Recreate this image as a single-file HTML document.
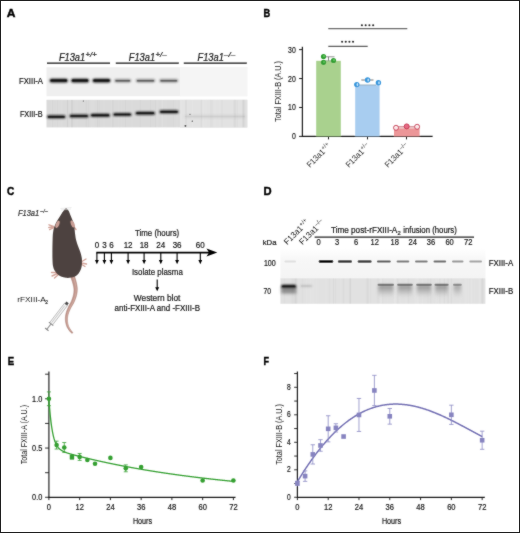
<!DOCTYPE html>
<html><head><meta charset="utf-8"><style>
html,body{margin:0;padding:0;background:#fff;}
svg{display:block;will-change:transform;font-family:"Liberation Sans", sans-serif;}

</style></head><body>
<svg width="520" height="533" viewBox="0 0 520 533">
<defs>
<filter id="soft" filterUnits="userSpaceOnUse" x="0" y="0" width="520" height="533"><feConvolveMatrix order="3" kernelMatrix="1 2 1 2 24 2 1 2 1" divisor="36" edgeMode="duplicate"/></filter>
<filter id="bl" x="-20%" y="-150%" width="140%" height="400%"><feGaussianBlur stdDeviation="0.8"/></filter>
<filter id="bl3" x="-20%" y="-50%" width="140%" height="200%"><feGaussianBlur stdDeviation="1"/></filter>
<filter id="bl2" x="-20%" y="-50%" width="140%" height="200%"><feGaussianBlur stdDeviation="1.5"/></filter>
</defs>
<rect x="0.5" y="0.5" width="519" height="532" fill="#fff" stroke="#1e1e1e" stroke-width="1"/>
<g filter="url(#soft)">
<text x="6.8" y="16.6" font-size="11.8" text-anchor="start" fill="#000" font-weight="bold" font-style="normal" textLength="8.7" lengthAdjust="spacingAndGlyphs" stroke="#000" stroke-width="0.45" >A</text>
<text x="263.5" y="16.5" font-size="11.8" text-anchor="start" fill="#000" font-weight="bold" font-style="normal" textLength="6.7" lengthAdjust="spacingAndGlyphs" stroke="#000" stroke-width="0.45" >B</text>
<text x="7.1" y="195.3" font-size="11.8" text-anchor="start" fill="#000" font-weight="bold" font-style="normal" textLength="7.3" lengthAdjust="spacingAndGlyphs" stroke="#000" stroke-width="0.45" >C</text>
<text x="263.6" y="194.7" font-size="11.8" text-anchor="start" fill="#000" font-weight="bold" font-style="normal" textLength="8.1" lengthAdjust="spacingAndGlyphs" stroke="#000" stroke-width="0.45" >D</text>
<text x="7.7" y="365.4" font-size="11.8" text-anchor="start" fill="#000" font-weight="bold" font-style="normal" textLength="6.4" lengthAdjust="spacingAndGlyphs" stroke="#000" stroke-width="0.45" >E</text>
<text x="263.6" y="365.3" font-size="11.8" text-anchor="start" fill="#000" font-weight="bold" font-style="normal" textLength="5.5" lengthAdjust="spacingAndGlyphs" stroke="#000" stroke-width="0.45" >F</text>
<line x1="47" y1="63.1" x2="110" y2="63.1" stroke="#111" stroke-width="1.3"/>
<text x="58.9" y="60.6" font-size="10.2" text-anchor="start" fill="#222" font-weight="normal" font-style="italic" textLength="26.3" lengthAdjust="spacingAndGlyphs" stroke="#222" stroke-width="0.22" >F13a1</text>
<text x="85.5" y="57.4" font-size="7" text-anchor="start" fill="#222" font-weight="normal" font-style="italic" textLength="11.2" lengthAdjust="spacingAndGlyphs" stroke="#222" stroke-width="0.22" >+/+</text>
<line x1="115.8" y1="63.1" x2="178.8" y2="63.1" stroke="#111" stroke-width="1.3"/>
<text x="128.8" y="60.6" font-size="10.2" text-anchor="start" fill="#222" font-weight="normal" font-style="italic" textLength="26.3" lengthAdjust="spacingAndGlyphs" stroke="#222" stroke-width="0.22" >F13a1</text>
<text x="155.4" y="57.4" font-size="7" text-anchor="start" fill="#222" font-weight="normal" font-style="italic" textLength="11.2" lengthAdjust="spacingAndGlyphs" stroke="#222" stroke-width="0.22" >+/–</text>
<line x1="183.8" y1="63.1" x2="246.8" y2="63.1" stroke="#111" stroke-width="1.3"/>
<text x="197.5" y="60.6" font-size="10.2" text-anchor="start" fill="#222" font-weight="normal" font-style="italic" textLength="26.3" lengthAdjust="spacingAndGlyphs" stroke="#222" stroke-width="0.22" >F13a1</text>
<text x="224.1" y="57.4" font-size="7" text-anchor="start" fill="#222" font-weight="normal" font-style="italic" textLength="11.2" lengthAdjust="spacingAndGlyphs" stroke="#222" stroke-width="0.22" >–/–</text>
<rect x="46.5" y="67.2" width="200.8" height="29" fill="#efefef"/>
<rect x="180" y="67.2" width="67.3" height="29" fill="#f5f5f5"/>
<rect x="46.5" y="99.8" width="200.8" height="27.6" fill="#dadada"/>
<rect x="180" y="99.8" width="67.3" height="27.6" fill="#e2e2e2"/>
<rect x="111.2" y="99.8" width="0.8" height="27.60000000000001" fill="#fff" opacity="0.076"/>
<rect x="61.0" y="99.8" width="1.5" height="27.60000000000001" fill="#fff" opacity="0.056"/>
<rect x="58.1" y="99.8" width="1.4" height="27.60000000000001" fill="#fff" opacity="0.033"/>
<rect x="133.1" y="99.8" width="0.7" height="27.60000000000001" fill="#fff" opacity="0.036"/>
<rect x="131.3" y="99.8" width="1.9" height="27.60000000000001" fill="#fff" opacity="0.039"/>
<rect x="91.1" y="99.8" width="1.6" height="27.60000000000001" fill="#fff" opacity="0.096"/>
<rect x="161.8" y="99.8" width="1.2" height="27.60000000000001" fill="#fff" opacity="0.098"/>
<rect x="55.8" y="99.8" width="2.0" height="27.60000000000001" fill="#fff" opacity="0.050"/>
<rect x="75.3" y="99.8" width="0.8" height="27.60000000000001" fill="#fff" opacity="0.052"/>
<rect x="209.6" y="99.8" width="0.9" height="27.60000000000001" fill="#fff" opacity="0.071"/>
<rect x="174.2" y="99.8" width="1.2" height="27.60000000000001" fill="#fff" opacity="0.068"/>
<rect x="59.0" y="99.8" width="0.7" height="27.60000000000001" fill="#fff" opacity="0.044"/>
<rect x="182.4" y="99.8" width="1.3" height="27.60000000000001" fill="#fff" opacity="0.052"/>
<rect x="163.5" y="99.8" width="1.3" height="27.60000000000001" fill="#fff" opacity="0.051"/>
<rect x="205.2" y="99.8" width="1.7" height="27.60000000000001" fill="#fff" opacity="0.047"/>
<rect x="161.3" y="99.8" width="1.4" height="27.60000000000001" fill="#fff" opacity="0.091"/>
<rect x="192.2" y="99.8" width="1.1" height="27.60000000000001" fill="#fff" opacity="0.099"/>
<rect x="70.1" y="99.8" width="1.3" height="27.60000000000001" fill="#fff" opacity="0.083"/>
<rect x="76.9" y="99.8" width="1.4" height="27.60000000000001" fill="#fff" opacity="0.033"/>
<rect x="180.0" y="99.8" width="1.8" height="27.60000000000001" fill="#fff" opacity="0.070"/>
<rect x="221.4" y="99.8" width="1.1" height="27.60000000000001" fill="#fff" opacity="0.079"/>
<rect x="165.3" y="99.8" width="1.5" height="27.60000000000001" fill="#fff" opacity="0.062"/>
<rect x="214.3" y="99.8" width="2.1" height="27.60000000000001" fill="#fff" opacity="0.063"/>
<rect x="179.2" y="99.8" width="0.7" height="27.60000000000001" fill="#fff" opacity="0.079"/>
<rect x="175.8" y="99.8" width="2.2" height="27.60000000000001" fill="#fff" opacity="0.088"/>
<rect x="103.4" y="99.8" width="1.2" height="27.60000000000001" fill="#fff" opacity="0.077"/>
<rect x="51.0" y="99.8" width="1.3" height="27.60000000000001" fill="#fff" opacity="0.042"/>
<rect x="69.9" y="99.8" width="0.7" height="27.60000000000001" fill="#fff" opacity="0.084"/>
<rect x="72.3" y="99.8" width="1.0" height="27.60000000000001" fill="#fff" opacity="0.057"/>
<rect x="220.6" y="99.8" width="0.7" height="27.60000000000001" fill="#fff" opacity="0.061"/>
<rect x="156.3" y="99.8" width="2.0" height="27.60000000000001" fill="#fff" opacity="0.087"/>
<rect x="219.1" y="99.8" width="1.0" height="27.60000000000001" fill="#fff" opacity="0.059"/>
<rect x="118.2" y="99.8" width="2.0" height="27.60000000000001" fill="#fff" opacity="0.097"/>
<rect x="76.7" y="99.8" width="0.9" height="27.60000000000001" fill="#fff" opacity="0.046"/>
<rect x="93.1" y="99.8" width="1.4" height="27.60000000000001" fill="#fff" opacity="0.071"/>
<rect x="99.0" y="99.8" width="0.6" height="27.60000000000001" fill="#fff" opacity="0.059"/>
<rect x="120.3" y="99.8" width="1.5" height="27.60000000000001" fill="#fff" opacity="0.097"/>
<rect x="184.5" y="99.8" width="1.4" height="27.60000000000001" fill="#fff" opacity="0.073"/>
<rect x="181.6" y="99.8" width="0.7" height="27.60000000000001" fill="#fff" opacity="0.093"/>
<rect x="202.3" y="99.8" width="2.0" height="27.60000000000001" fill="#fff" opacity="0.086"/>
<rect x="124.9" y="99.8" width="1.2" height="27.60000000000001" fill="#000" opacity="0.018"/>
<rect x="173.2" y="99.8" width="0.7" height="27.60000000000001" fill="#000" opacity="0.017"/>
<rect x="88.2" y="99.8" width="0.9" height="27.60000000000001" fill="#000" opacity="0.024"/>
<rect x="57.0" y="99.8" width="0.6" height="27.60000000000001" fill="#000" opacity="0.019"/>
<rect x="66.8" y="99.8" width="1.2" height="27.60000000000001" fill="#000" opacity="0.016"/>
<rect x="221.2" y="99.8" width="1.6" height="27.60000000000001" fill="#000" opacity="0.019"/>
<rect x="96.9" y="99.8" width="1.2" height="27.60000000000001" fill="#000" opacity="0.024"/>
<rect x="71.0" y="99.8" width="2.0" height="27.60000000000001" fill="#000" opacity="0.040"/>
<rect x="139.6" y="99.8" width="1.4" height="27.60000000000001" fill="#000" opacity="0.017"/>
<rect x="66.9" y="99.8" width="1.1" height="27.60000000000001" fill="#000" opacity="0.022"/>
<rect x="212.1" y="99.8" width="0.9" height="27.60000000000001" fill="#000" opacity="0.016"/>
<rect x="236.5" y="99.8" width="1.4" height="27.60000000000001" fill="#000" opacity="0.019"/>
<rect x="155.0" y="99.8" width="0.6" height="27.60000000000001" fill="#000" opacity="0.028"/>
<rect x="242.0" y="99.8" width="2.0" height="27.60000000000001" fill="#000" opacity="0.032"/>
<rect x="98.7" y="99.8" width="1.2" height="27.60000000000001" fill="#000" opacity="0.019"/>
<rect x="200.7" y="99.8" width="1.5" height="27.60000000000001" fill="#000" opacity="0.034"/>
<rect x="112.4" y="99.8" width="1.0" height="27.60000000000001" fill="#000" opacity="0.035"/>
<rect x="243.3" y="99.8" width="2.0" height="27.60000000000001" fill="#000" opacity="0.035"/>
<rect x="210.0" y="99.8" width="1.8" height="27.60000000000001" fill="#000" opacity="0.021"/>
<rect x="149.9" y="99.8" width="1.2" height="27.60000000000001" fill="#000" opacity="0.016"/>
<rect x="52.1" y="99.8" width="1.0" height="27.60000000000001" fill="#000" opacity="0.021"/>
<rect x="184.9" y="99.8" width="2.1" height="27.60000000000001" fill="#000" opacity="0.026"/>
<rect x="233.7" y="99.8" width="2.2" height="27.60000000000001" fill="#000" opacity="0.039"/>
<rect x="119.4" y="99.8" width="1.0" height="27.60000000000001" fill="#000" opacity="0.021"/>
<rect x="85.8" y="99.8" width="0.9" height="27.60000000000001" fill="#000" opacity="0.031"/>
<rect x="49.6" y="78.64999999999999" width="18.300000000000004" height="3.9" rx="1.95" fill="#111" opacity="1" filter="url(#bl)"/>
<rect x="50.4" y="79.35" width="16.700000000000003" height="2.5" rx="1.25" fill="#111" opacity="0.850"/>
<rect x="71" y="78.64999999999999" width="18" height="3.9" rx="1.95" fill="#111" opacity="1" filter="url(#bl)"/>
<rect x="71.8" y="79.35" width="16.4" height="2.5" rx="1.25" fill="#111" opacity="0.850"/>
<rect x="92.5" y="78.64999999999999" width="18.0" height="3.9" rx="1.95" fill="#111" opacity="1" filter="url(#bl)"/>
<rect x="93.3" y="79.35" width="16.4" height="2.5" rx="1.25" fill="#111" opacity="0.850"/>
<rect x="114.5" y="79.35" width="16.5" height="2.9" rx="1.45" fill="#333" opacity="0.62" filter="url(#bl)"/>
<rect x="115.3" y="80.05" width="14.9" height="1.5" rx="0.75" fill="#333" opacity="0.527"/>
<rect x="136" y="79.35" width="19" height="2.9" rx="1.45" fill="#333" opacity="0.62" filter="url(#bl)"/>
<rect x="136.8" y="80.05" width="17.4" height="1.5" rx="0.75" fill="#333" opacity="0.527"/>
<rect x="159.5" y="79.35" width="18.5" height="2.9" rx="1.45" fill="#333" opacity="0.62" filter="url(#bl)"/>
<rect x="160.3" y="80.05" width="16.9" height="1.5" rx="0.75" fill="#333" opacity="0.527"/>
<rect x="47" y="115.25" width="18.5" height="3.1" rx="1.55" fill="#111" opacity="1" filter="url(#bl)"/>
<rect x="47.8" y="115.95" width="16.9" height="1.7000000000000002" rx="0.8500000000000001" fill="#111" opacity="0.850"/>
<rect x="69.5" y="114.45" width="19.0" height="3.1" rx="1.55" fill="#111" opacity="1" filter="url(#bl)"/>
<rect x="70.3" y="115.15" width="17.4" height="1.7000000000000002" rx="0.8500000000000001" fill="#111" opacity="0.850"/>
<rect x="90.5" y="113.75" width="19.5" height="3.1" rx="1.55" fill="#111" opacity="1" filter="url(#bl)"/>
<rect x="91.3" y="114.45" width="17.9" height="1.7000000000000002" rx="0.8500000000000001" fill="#111" opacity="0.850"/>
<rect x="113" y="112.95" width="18.5" height="3.1" rx="1.55" fill="#111" opacity="0.95" filter="url(#bl)"/>
<rect x="113.8" y="113.65" width="16.9" height="1.7000000000000002" rx="0.8500000000000001" fill="#111" opacity="0.807"/>
<rect x="135.5" y="111.65" width="19.5" height="3.1" rx="1.55" fill="#111" opacity="1" filter="url(#bl)"/>
<rect x="136.3" y="112.35000000000001" width="17.9" height="1.7000000000000002" rx="0.8500000000000001" fill="#111" opacity="0.850"/>
<rect x="159.5" y="110.25" width="19.0" height="3.1" rx="1.55" fill="#111" opacity="1" filter="url(#bl)"/>
<rect x="160.3" y="110.95" width="17.4" height="1.7000000000000002" rx="0.8500000000000001" fill="#111" opacity="0.850"/>
<rect x="184" y="115.0" width="62" height="3" rx="1.5" fill="#111" opacity="0.06" filter="url(#bl2)"/>
<rect x="184.8" y="115.7" width="60.4" height="1.6" rx="0.8" fill="#111" opacity="0.051"/>
<circle cx="185.4" cy="125.8" r="0.9" fill="#222"/>
<circle cx="192.3" cy="121.2" r="0.6" fill="#222"/>
<circle cx="190" cy="114.3" r="0.5" fill="#222"/>
<circle cx="83.3" cy="101" r="0.5" fill="#222"/>
<text x="19" y="84.2" font-size="8.6" text-anchor="start" fill="#222" font-weight="normal" font-style="normal" textLength="24" lengthAdjust="spacingAndGlyphs" stroke="#222" stroke-width="0.22" >FXIII-A</text>
<text x="19.9" y="116.7" font-size="8.4" text-anchor="start" fill="#222" font-weight="normal" font-style="normal" textLength="22.8" lengthAdjust="spacingAndGlyphs" stroke="#222" stroke-width="0.22" >FXIII-B</text>
<line x1="302.4" y1="46.7" x2="302.4" y2="136.4" stroke="#1a1a1a" stroke-width="1.15"/>
<line x1="301.9" y1="136.4" x2="432.6" y2="136.4" stroke="#1a1a1a" stroke-width="1.15"/>
<line x1="299.1" y1="136.4" x2="302.4" y2="136.4" stroke="#1a1a1a" stroke-width="1"/>
<text x="295.8" y="139.4" font-size="8.5" text-anchor="end" fill="#222" font-weight="normal" font-style="normal" textLength="3.85" lengthAdjust="spacingAndGlyphs" stroke="#222" stroke-width="0.22" >0</text>
<line x1="299.1" y1="107.47" x2="302.4" y2="107.47" stroke="#1a1a1a" stroke-width="1"/>
<text x="295.8" y="110.47" font-size="8.5" text-anchor="end" fill="#222" font-weight="normal" font-style="normal" textLength="7.7" lengthAdjust="spacingAndGlyphs" stroke="#222" stroke-width="0.22" >10</text>
<line x1="299.1" y1="78.54" x2="302.4" y2="78.54" stroke="#1a1a1a" stroke-width="1"/>
<text x="295.8" y="81.54" font-size="8.5" text-anchor="end" fill="#222" font-weight="normal" font-style="normal" textLength="7.7" lengthAdjust="spacingAndGlyphs" stroke="#222" stroke-width="0.22" >20</text>
<line x1="299.1" y1="49.610000000000014" x2="302.4" y2="49.610000000000014" stroke="#1a1a1a" stroke-width="1"/>
<text x="295.8" y="52.610000000000014" font-size="8.5" text-anchor="end" fill="#222" font-weight="normal" font-style="normal" textLength="7.7" lengthAdjust="spacingAndGlyphs" stroke="#222" stroke-width="0.22" >30</text>
<line x1="328.5" y1="136.4" x2="328.5" y2="139.4" stroke="#1a1a1a" stroke-width="1"/>
<line x1="367.5" y1="136.4" x2="367.5" y2="139.4" stroke="#1a1a1a" stroke-width="1"/>
<line x1="406.5" y1="136.4" x2="406.5" y2="139.4" stroke="#1a1a1a" stroke-width="1"/>
<rect x="316.2" y="60.8" width="24.6" height="75.60000000000001" fill="#a9d18e"/>
<rect x="355.2" y="85.2" width="24.4" height="51.2" fill="#a8cdf0"/>
<rect x="394" y="128.3" width="25.6" height="8.099999999999994" fill="#ec9698"/>
<line x1="328.5" y1="56.8" x2="328.5" y2="61" stroke="#666" stroke-width="0.8"/>
<line x1="322.5" y1="56.8" x2="334.5" y2="56.8" stroke="#777" stroke-width="0.8"/>
<line x1="323" y1="60.8" x2="334" y2="60.8" stroke="#8a8" stroke-width="0.8"/>
<line x1="359" y1="85" x2="376" y2="85" stroke="#7a9ab0" stroke-width="0.8"/>
<line x1="361.3" y1="80" x2="373.5" y2="80" stroke="#555" stroke-width="0.8"/>
<line x1="396" y1="126.9" x2="417" y2="126.9" stroke="#b03040" stroke-width="0.8"/>
<circle cx="323.5" cy="56.5" r="2.6" fill="#2f9f30"/>
<circle cx="324.0" cy="56.2" r="1.1" fill="#5cc05a"/>
<circle cx="323.5" cy="62.3" r="2.6" fill="#2f9f30"/>
<circle cx="324.0" cy="62.0" r="1.1" fill="#5cc05a"/>
<circle cx="333.5" cy="60.5" r="2.6" fill="#2f9f30"/>
<circle cx="334.0" cy="60.2" r="1.1" fill="#5cc05a"/>
<circle cx="356.8" cy="84.6" r="2.7" fill="#3596dc"/>
<ellipse cx="357.40000000000003" cy="84.6" rx="0.8" ry="1.5" fill="#bfe3fa"/>
<circle cx="367.6" cy="80" r="2.7" fill="#3596dc"/>
<ellipse cx="368.20000000000005" cy="80" rx="0.8" ry="1.5" fill="#bfe3fa"/>
<circle cx="378.4" cy="82.7" r="2.7" fill="#3596dc"/>
<ellipse cx="379.0" cy="82.7" rx="0.8" ry="1.5" fill="#bfe3fa"/>
<circle cx="396" cy="127.8" r="2.5" fill="#fbe6e8" stroke="#c4304c" stroke-width="0.9"/>
<circle cx="406.7" cy="126.4" r="2.5" fill="#e56a84" stroke="#c4304c" stroke-width="0.9"/>
<circle cx="417.1" cy="126.8" r="2.5" fill="#fbe6e8" stroke="#c4304c" stroke-width="0.9"/>
<line x1="328.3" y1="28.6" x2="407.3" y2="28.6" stroke="#6a6a6a" stroke-width="1.1"/>
<line x1="328.3" y1="46.3" x2="367.7" y2="46.3" stroke="#333" stroke-width="1.0"/>
<circle cx="361.9" cy="25.2" r="1.05" fill="#2a2a2a"/>
<circle cx="342.1" cy="41.7" r="1.05" fill="#2a2a2a"/>
<circle cx="365.65" cy="25.2" r="1.05" fill="#2a2a2a"/>
<circle cx="345.75" cy="41.7" r="1.05" fill="#2a2a2a"/>
<circle cx="369.4" cy="25.2" r="1.05" fill="#2a2a2a"/>
<circle cx="349.40000000000003" cy="41.7" r="1.05" fill="#2a2a2a"/>
<circle cx="373.15" cy="25.2" r="1.05" fill="#2a2a2a"/>
<circle cx="353.05" cy="41.7" r="1.05" fill="#2a2a2a"/>
<text transform="translate(281,91.5) rotate(-90)" font-size="8.7" text-anchor="middle" fill="#222" textLength="61" lengthAdjust="spacingAndGlyphs">Total FXIII-B (A.U.)</text>
<g transform="translate(309.9,168) rotate(-45)"><text x="0" y="0" font-size="8.2" fill="#222"><tspan textLength="22" lengthAdjust="spacingAndGlyphs">F13a1</tspan><tspan font-size="5.8" dy="-3.2">+/+</tspan></text></g>
<g transform="translate(348.9,168) rotate(-45)"><text x="0" y="0" font-size="8.2" fill="#222"><tspan textLength="22" lengthAdjust="spacingAndGlyphs">F13a1</tspan><tspan font-size="5.8" dy="-3.2">+/–</tspan></text></g>
<g transform="translate(387.9,168) rotate(-45)"><text x="0" y="0" font-size="8.2" fill="#222"><tspan textLength="22" lengthAdjust="spacingAndGlyphs">F13a1</tspan><tspan font-size="5.8" dy="-3.2">–/–</tspan></text></g>
<text x="17.9" y="215.6" font-size="8.4" text-anchor="start" fill="#333" font-weight="normal" font-style="italic" textLength="21.3" lengthAdjust="spacingAndGlyphs" stroke="#333" stroke-width="0.22" >F13a1</text>
<text x="40.2" y="212.6" font-size="5.6" text-anchor="start" fill="#444" font-weight="normal" font-style="italic" textLength="7.6" lengthAdjust="spacingAndGlyphs" stroke="#444" stroke-width="0.22" >–/–</text>
<text x="17.3" y="302.1" font-size="8" fill="#222" textLength="28.5" lengthAdjust="spacingAndGlyphs">rFXIII-A</text>
<text x="45.2" y="304.4" font-size="5.5" text-anchor="start" fill="#222" font-weight="normal" font-style="normal" textLength="2.7" lengthAdjust="spacingAndGlyphs" stroke="#222" stroke-width="0.22" >2</text>
<line x1="96.3" y1="252.7" x2="210" y2="252.7" stroke="#000" stroke-width="1.8"/>
<path d="M217.3,252.6 L206.5,248.6 L209,252.6 L206.5,256.6 Z" fill="#000"/>
<line x1="96.9" y1="252.7" x2="96.9" y2="260.5" stroke="#000" stroke-width="1.1"/>
<path d="M95.0,260 L98.80000000000001,260 L96.9,264.2 Z" fill="#000"/>
<text x="96.9" y="247.7" font-size="8.6" text-anchor="middle" fill="#222" font-weight="normal" font-style="normal" textLength="4.45" lengthAdjust="spacingAndGlyphs" stroke="#222" stroke-width="0.22" >0</text>
<line x1="104.4" y1="252.7" x2="104.4" y2="260.5" stroke="#000" stroke-width="1.1"/>
<path d="M102.5,260 L106.30000000000001,260 L104.4,264.2 Z" fill="#000"/>
<text x="104.4" y="247.7" font-size="8.6" text-anchor="middle" fill="#222" font-weight="normal" font-style="normal" textLength="4.45" lengthAdjust="spacingAndGlyphs" stroke="#222" stroke-width="0.22" >3</text>
<line x1="111.4" y1="252.7" x2="111.4" y2="260.5" stroke="#000" stroke-width="1.1"/>
<path d="M109.5,260 L113.30000000000001,260 L111.4,264.2 Z" fill="#000"/>
<text x="111.4" y="247.7" font-size="8.6" text-anchor="middle" fill="#222" font-weight="normal" font-style="normal" textLength="4.45" lengthAdjust="spacingAndGlyphs" stroke="#222" stroke-width="0.22" >6</text>
<line x1="128.1" y1="252.7" x2="128.1" y2="260.5" stroke="#000" stroke-width="1.1"/>
<path d="M126.19999999999999,260 L130.0,260 L128.1,264.2 Z" fill="#000"/>
<text x="128.1" y="247.7" font-size="8.6" text-anchor="middle" fill="#222" font-weight="normal" font-style="normal" textLength="8.9" lengthAdjust="spacingAndGlyphs" stroke="#222" stroke-width="0.22" >12</text>
<line x1="144.1" y1="252.7" x2="144.1" y2="260.5" stroke="#000" stroke-width="1.1"/>
<path d="M142.2,260 L146.0,260 L144.1,264.2 Z" fill="#000"/>
<text x="144.1" y="247.7" font-size="8.6" text-anchor="middle" fill="#222" font-weight="normal" font-style="normal" textLength="8.9" lengthAdjust="spacingAndGlyphs" stroke="#222" stroke-width="0.22" >18</text>
<line x1="160.8" y1="252.7" x2="160.8" y2="260.5" stroke="#000" stroke-width="1.1"/>
<path d="M158.9,260 L162.70000000000002,260 L160.8,264.2 Z" fill="#000"/>
<text x="160.8" y="247.7" font-size="8.6" text-anchor="middle" fill="#222" font-weight="normal" font-style="normal" textLength="8.9" lengthAdjust="spacingAndGlyphs" stroke="#222" stroke-width="0.22" >24</text>
<line x1="177.1" y1="252.7" x2="177.1" y2="260.5" stroke="#000" stroke-width="1.1"/>
<path d="M175.2,260 L179.0,260 L177.1,264.2 Z" fill="#000"/>
<text x="177.1" y="247.7" font-size="8.6" text-anchor="middle" fill="#222" font-weight="normal" font-style="normal" textLength="8.9" lengthAdjust="spacingAndGlyphs" stroke="#222" stroke-width="0.22" >36</text>
<line x1="200.3" y1="252.7" x2="200.3" y2="260.5" stroke="#000" stroke-width="1.1"/>
<path d="M198.4,260 L202.20000000000002,260 L200.3,264.2 Z" fill="#000"/>
<text x="200.3" y="247.7" font-size="8.6" text-anchor="middle" fill="#222" font-weight="normal" font-style="normal" textLength="8.9" lengthAdjust="spacingAndGlyphs" stroke="#222" stroke-width="0.22" >60</text>
<text x="135.1" y="235.8" font-size="8.5" text-anchor="start" fill="#222" font-weight="normal" font-style="normal" textLength="44.1" lengthAdjust="spacingAndGlyphs" stroke="#222" stroke-width="0.22" >Time (hours)</text>
<text x="131.9" y="274.5" font-size="8.6" text-anchor="start" fill="#222" font-weight="normal" font-style="normal" textLength="50.9" lengthAdjust="spacingAndGlyphs" stroke="#222" stroke-width="0.22" >Isolate plasma</text>
<line x1="157.2" y1="279.4" x2="157.2" y2="288" stroke="#000" stroke-width="1.1"/>
<path d="M155.2,287.3 L159.2,287.3 L157.2,291.2 Z" fill="#000"/>
<text x="133.8" y="301.3" font-size="8.6" text-anchor="start" fill="#222" font-weight="normal" font-style="normal" textLength="46.6" lengthAdjust="spacingAndGlyphs" stroke="#222" stroke-width="0.22" >Western blot</text>
<text x="114.6" y="310.7" font-size="8.5" text-anchor="start" fill="#222" font-weight="normal" font-style="normal" textLength="85.4" lengthAdjust="spacingAndGlyphs" stroke="#222" stroke-width="0.22" >anti-FXIII-A and -FXIII-B</text>
<path d="M70.74,277.09 L70.92,277.60 L71.16,278.28 L71.44,279.07 L71.74,279.95 L72.05,280.87 L72.35,281.78 L72.61,282.65 L72.83,283.44 L73.03,284.18 L73.21,284.92 L73.38,285.64 L73.54,286.34 L73.67,287.03 L73.77,287.71 L73.86,288.38 L73.91,289.06 L73.94,289.75 L73.94,290.43 L73.92,291.12 L73.88,291.81 L73.82,292.50 L73.73,293.21 L73.62,293.92 L73.48,294.66 L73.31,295.41 L73.12,296.18 L72.90,296.97 L72.65,297.76 L72.38,298.57 L72.09,299.37 L71.80,300.16 L71.49,300.92 L71.17,301.65 L70.82,302.38 L70.43,303.11 L70.03,303.85 L69.61,304.60 L69.20,305.37 L68.80,306.15 L68.43,306.94 L68.09,307.71 L67.75,308.48 L67.42,309.25 L67.11,310.03 L66.81,310.81 L66.53,311.60 L66.29,312.40 L66.07,313.19 L65.89,313.98 L65.73,314.77 L65.60,315.56 L65.49,316.35 L65.41,317.14 L65.37,317.93 L65.35,318.72 L65.36,319.52 L65.41,320.32 L65.49,321.13 L65.60,321.95 L65.74,322.76 L65.90,323.55 L66.09,324.33 L66.30,325.07 L66.54,325.78 L66.80,326.47 L67.10,327.13 L67.42,327.76 L67.76,328.35 L68.12,328.92 L68.47,329.45 L68.82,329.96 L69.16,330.44 L69.52,330.93 L69.92,331.40 L70.33,331.85 L70.72,332.27 L71.10,332.64 L71.43,332.97 L71.71,333.23 L71.92,333.44 L72.88,332.56 L72.68,332.32 L72.42,332.02 L72.11,331.68 L71.78,331.30 L71.42,330.88 L71.07,330.45 L70.74,330.01 L70.44,329.56 L70.15,329.08 L69.84,328.58 L69.53,328.06 L69.24,327.52 L68.95,326.97 L68.69,326.40 L68.46,325.82 L68.26,325.22 L68.09,324.57 L67.93,323.88 L67.78,323.17 L67.66,322.43 L67.56,321.68 L67.49,320.94 L67.45,320.20 L67.44,319.48 L67.46,318.78 L67.51,318.07 L67.58,317.36 L67.68,316.65 L67.81,315.94 L67.96,315.23 L68.13,314.52 L68.33,313.81 L68.55,313.10 L68.80,312.40 L69.08,311.69 L69.39,310.97 L69.72,310.25 L70.06,309.52 L70.42,308.79 L70.77,308.06 L71.14,307.36 L71.53,306.66 L71.96,305.94 L72.40,305.21 L72.84,304.46 L73.29,303.69 L73.71,302.89 L74.11,302.08 L74.47,301.26 L74.82,300.43 L75.16,299.59 L75.48,298.74 L75.78,297.88 L76.05,297.03 L76.30,296.18 L76.52,295.34 L76.71,294.53 L76.87,293.72 L77.01,292.93 L77.12,292.13 L77.20,291.34 L77.26,290.54 L77.29,289.75 L77.29,288.94 L77.26,288.12 L77.20,287.31 L77.11,286.51 L76.99,285.72 L76.85,284.93 L76.70,284.15 L76.54,283.36 L76.37,282.56 L76.16,281.68 L75.90,280.73 L75.62,279.76 L75.33,278.80 L75.05,277.89 L74.80,277.08 L74.60,276.41 L74.46,275.91 Z" fill="#c2978d" stroke="#a0746a" stroke-width="0.5"/>
<polyline points="73.10,276.50 73.26,277.00 73.48,277.68 73.75,278.48 74.04,279.38 74.34,280.31 74.62,281.26 74.88,282.17 75.10,283.00 75.28,283.77 75.46,284.54 75.62,285.29 75.76,286.03 75.89,286.77 75.99,287.51 76.06,288.25 76.10,289.00 76.11,289.75 76.10,290.49 76.06,291.23 76.00,291.97 75.91,292.71 75.80,293.46 75.66,294.23 75.50,295.00 75.31,295.79 75.09,296.60 74.84,297.42 74.56,298.25 74.27,299.08 73.96,299.90 73.63,300.71 73.30,301.50 72.94,302.27 72.55,303.04 72.14,303.79 71.71,304.53 71.29,305.27 70.87,306.01 70.47,306.75 70.10,307.50 69.75,308.25 69.41,309.00 69.07,309.75 68.75,310.50 68.45,311.25 68.17,312.00 67.92,312.75 67.70,313.50 67.51,314.25 67.35,315.00 67.20,315.75 67.09,316.50 67.00,317.25 66.94,318.00 66.90,318.75 66.90,319.50 66.93,320.26 66.99,321.04 67.08,321.82 67.20,322.59 67.34,323.36 67.51,324.11 67.70,324.82 67.90,325.50 68.13,326.14 68.40,326.77 68.69,327.36 69.00,327.94 69.32,328.49 69.65,329.02 69.98,329.52 70.30,330.00 70.63,330.47 71.00,330.93" fill="none" stroke="#d9b4aa" stroke-width="0.7"/>
<g transform="translate(67.2,302.8) rotate(127.5)">
<rect x="2" y="-1.9" width="24.5" height="3.8" fill="#f0f0f0" stroke="#9a9a9a" stroke-width="0.55"/>
<line x1="4" y1="0.2" x2="25" y2="0.2" stroke="#c8c8c8" stroke-width="0.8"/>
<rect x="-0.6" y="-1.5" width="2.8" height="3" fill="#4a4a4a"/>
<line x1="26.5" y1="-2.8" x2="26.5" y2="2.8" stroke="#888" stroke-width="1"/>
<line x1="26.5" y1="0" x2="33.5" y2="0" stroke="#9a9a9a" stroke-width="1.1"/>
<line x1="33.5" y1="-2.2" x2="33.5" y2="2.2" stroke="#888" stroke-width="1.1"/>
</g>
<path d="M53.5,226.5 L49,224.8 M53.5,227 L48.8,227.5 M53.8,227.6 L49.6,229.6" stroke="#d4a69c" stroke-width="1.4" stroke-linecap="round" fill="none"/>
<path d="M74,227 L76,229.5" stroke="#d4a69c" stroke-width="1.4" stroke-linecap="round" fill="none"/>
<path d="M57,272.5 L51.5,272.5 M57.5,273.5 L52,276 M58.5,274.5 L54.5,278" stroke="#d4a69c" stroke-width="1.4" stroke-linecap="round" fill="none"/>
<path d="M81,262 L86,259 M81.5,263 L86.5,264 M81,264 L85,266.5" stroke="#d4a69c" stroke-width="1.4" stroke-linecap="round" fill="none"/>
<path d="M66.20,208.30 C66.75,208.50 67.73,209.52 68.30,210.30 C68.87,211.08 69.17,212.00 69.60,213.00 C70.03,214.00 70.48,215.27 70.90,216.30 C71.32,217.33 71.68,218.20 72.10,219.20 C72.52,220.20 73.03,221.17 73.40,222.30 C73.77,223.43 74.08,224.72 74.30,226.00 C74.52,227.28 74.57,228.67 74.70,230.00 C74.83,231.33 74.87,232.33 75.10,234.00 C75.33,235.67 75.62,238.00 76.10,240.00 C76.58,242.00 77.30,244.00 78.00,246.00 C78.70,248.00 79.67,250.00 80.30,252.00 C80.93,254.00 81.52,256.00 81.80,258.00 C82.08,260.00 82.13,262.17 82.00,264.00 C81.87,265.83 81.57,267.43 81.00,269.00 C80.43,270.57 79.60,272.17 78.60,273.40 C77.60,274.63 76.27,275.70 75.00,276.40 C73.73,277.10 72.50,277.37 71.00,277.60 C69.50,277.83 67.67,277.97 66.00,277.80 C64.33,277.63 62.42,277.20 61.00,276.60 C59.58,276.00 58.57,275.20 57.50,274.20 C56.43,273.20 55.35,271.97 54.60,270.60 C53.85,269.23 53.35,267.77 53.00,266.00 C52.65,264.23 52.60,262.67 52.50,260.00 C52.40,257.33 52.38,253.33 52.40,250.00 C52.42,246.67 52.50,242.83 52.60,240.00 C52.70,237.17 52.73,235.17 53.00,233.00 C53.27,230.83 53.63,228.83 54.20,227.00 C54.77,225.17 55.62,223.50 56.40,222.00 C57.18,220.50 58.07,219.33 58.90,218.00 C59.73,216.67 60.65,215.17 61.40,214.00 C62.15,212.83 62.80,211.82 63.40,211.00 C64.00,210.18 64.53,209.55 65.00,209.10 C65.47,208.65 65.65,208.10 66.20,208.30 Z" fill="#4e4340"/>
<ellipse cx="57.5" cy="224.3" rx="1.7" ry="3.8" fill="#c99d94" transform="rotate(22 57.5 224.3)"/>
<ellipse cx="72.7" cy="224" rx="1.7" ry="3.8" fill="#c99d94" transform="rotate(-22 72.7 224)"/>
<path d="M60.5,208.5 L71.5,207.5 M61,210 L71,209" stroke="#ddd" stroke-width="0.6"/>
<text x="262.7" y="245.3" font-size="8" text-anchor="start" fill="#222" font-weight="normal" font-style="normal" textLength="13.8" lengthAdjust="spacingAndGlyphs" stroke="#222" stroke-width="0.22" >kDa</text>
<g transform="translate(287.2,245.2) rotate(-45)"><text x="0" y="0" font-size="8.5" fill="#222"><tspan textLength="23" lengthAdjust="spacingAndGlyphs">F13a1</tspan><tspan font-size="6" dy="-3.2">+/+</tspan></text></g>
<g transform="translate(302.6,245.2) rotate(-45)"><text x="0" y="0" font-size="8.5" fill="#222"><tspan textLength="23" lengthAdjust="spacingAndGlyphs">F13a1</tspan><tspan font-size="6" dy="-3.2">–/–</tspan></text></g>
<line x1="314.6" y1="237.1" x2="474" y2="237.1" stroke="#222" stroke-width="1.1"/>
<text x="331" y="232.5" font-size="8.4" text-anchor="start" fill="#222" font-weight="normal" font-style="normal" textLength="66.3" lengthAdjust="spacingAndGlyphs" stroke="#222" stroke-width="0.22" >Time post-rFXIII-A</text>
<text x="397.6" y="234.6" font-size="5.8" text-anchor="start" fill="#222" font-weight="normal" font-style="normal" stroke="#222" stroke-width="0.22" >2</text>
<text x="403.2" y="232.5" font-size="8.4" text-anchor="start" fill="#222" font-weight="normal" font-style="normal" textLength="53.6" lengthAdjust="spacingAndGlyphs" stroke="#222" stroke-width="0.22" >infusion (hours)</text>
<text x="318.5" y="245.4" font-size="8.8" text-anchor="middle" fill="#222" font-weight="normal" font-style="normal" textLength="4.2" lengthAdjust="spacingAndGlyphs" stroke="#222" stroke-width="0.22" >0</text>
<text x="337.2" y="245.4" font-size="8.8" text-anchor="middle" fill="#222" font-weight="normal" font-style="normal" textLength="4.2" lengthAdjust="spacingAndGlyphs" stroke="#222" stroke-width="0.22" >3</text>
<text x="356" y="245.4" font-size="8.8" text-anchor="middle" fill="#222" font-weight="normal" font-style="normal" textLength="4.2" lengthAdjust="spacingAndGlyphs" stroke="#222" stroke-width="0.22" >6</text>
<text x="374.7" y="245.4" font-size="8.8" text-anchor="middle" fill="#222" font-weight="normal" font-style="normal" textLength="8.4" lengthAdjust="spacingAndGlyphs" stroke="#222" stroke-width="0.22" >12</text>
<text x="394.8" y="245.4" font-size="8.8" text-anchor="middle" fill="#222" font-weight="normal" font-style="normal" textLength="8.4" lengthAdjust="spacingAndGlyphs" stroke="#222" stroke-width="0.22" >18</text>
<text x="412.7" y="245.4" font-size="8.8" text-anchor="middle" fill="#222" font-weight="normal" font-style="normal" textLength="8.4" lengthAdjust="spacingAndGlyphs" stroke="#222" stroke-width="0.22" >24</text>
<text x="430.9" y="245.4" font-size="8.8" text-anchor="middle" fill="#222" font-weight="normal" font-style="normal" textLength="8.4" lengthAdjust="spacingAndGlyphs" stroke="#222" stroke-width="0.22" >36</text>
<text x="449.6" y="245.4" font-size="8.8" text-anchor="middle" fill="#222" font-weight="normal" font-style="normal" textLength="8.4" lengthAdjust="spacingAndGlyphs" stroke="#222" stroke-width="0.22" >60</text>
<text x="468.3" y="245.4" font-size="8.8" text-anchor="middle" fill="#222" font-weight="normal" font-style="normal" textLength="8.4" lengthAdjust="spacingAndGlyphs" stroke="#222" stroke-width="0.22" >72</text>
<text x="263.9" y="266" font-size="8.3" text-anchor="start" fill="#222" font-weight="normal" font-style="normal" textLength="11.85" lengthAdjust="spacingAndGlyphs" stroke="#222" stroke-width="0.22" >100</text>
<text x="263.5" y="293.5" font-size="8.5" text-anchor="start" fill="#222" font-weight="normal" font-style="normal" textLength="7.6" lengthAdjust="spacingAndGlyphs" stroke="#222" stroke-width="0.22" >70</text>
<text x="488.7" y="265.8" font-size="8.2" text-anchor="start" fill="#222" font-weight="normal" font-style="normal" textLength="24.5" lengthAdjust="spacingAndGlyphs" stroke="#222" stroke-width="0.22" >FXIII-A</text>
<text x="488.7" y="294.1" font-size="8.2" text-anchor="start" fill="#222" font-weight="normal" font-style="normal" textLength="24.5" lengthAdjust="spacingAndGlyphs" stroke="#222" stroke-width="0.22" >FXIII-B</text>
<defs><linearGradient id="gA" x1="0" y1="0" x2="0" y2="1"><stop offset="0" stop-color="#fff"/><stop offset="0.4" stop-color="#f7f7f7"/><stop offset="1" stop-color="#f4f4f4"/></linearGradient><linearGradient id="gB" x1="0" y1="0" x2="0" y2="1"><stop offset="0" stop-color="#777" stop-opacity="1"/><stop offset="0.45" stop-color="#999" stop-opacity="0.7"/><stop offset="1" stop-color="#bbb" stop-opacity="0"/></linearGradient></defs>
<rect x="280.4" y="248" width="205" height="30" fill="url(#gA)"/>
<rect x="280.4" y="278.2" width="205" height="25.6" fill="#e1e1e1"/>
<rect x="464.1" y="278.2" width="1.9" height="25.600000000000023" fill="#fff" opacity="0.068"/>
<rect x="413.6" y="278.2" width="1.9" height="25.600000000000023" fill="#fff" opacity="0.037"/>
<rect x="415.2" y="278.2" width="2.1" height="25.600000000000023" fill="#fff" opacity="0.093"/>
<rect x="433.4" y="278.2" width="1.4" height="25.600000000000023" fill="#fff" opacity="0.044"/>
<rect x="441.4" y="278.2" width="1.1" height="25.600000000000023" fill="#fff" opacity="0.094"/>
<rect x="478.6" y="278.2" width="1.2" height="25.600000000000023" fill="#fff" opacity="0.062"/>
<rect x="473.5" y="278.2" width="1.8" height="25.600000000000023" fill="#fff" opacity="0.044"/>
<rect x="306.3" y="278.2" width="0.8" height="25.600000000000023" fill="#fff" opacity="0.102"/>
<rect x="444.9" y="278.2" width="0.8" height="25.600000000000023" fill="#fff" opacity="0.096"/>
<rect x="480.4" y="278.2" width="1.7" height="25.600000000000023" fill="#fff" opacity="0.058"/>
<rect x="392.3" y="278.2" width="0.8" height="25.600000000000023" fill="#fff" opacity="0.031"/>
<rect x="478.5" y="278.2" width="1.6" height="25.600000000000023" fill="#fff" opacity="0.072"/>
<rect x="470.9" y="278.2" width="1.3" height="25.600000000000023" fill="#fff" opacity="0.100"/>
<rect x="448.9" y="278.2" width="0.9" height="25.600000000000023" fill="#fff" opacity="0.050"/>
<rect x="340.2" y="278.2" width="1.0" height="25.600000000000023" fill="#fff" opacity="0.077"/>
<rect x="333.3" y="278.2" width="1.3" height="25.600000000000023" fill="#fff" opacity="0.040"/>
<rect x="466.0" y="278.2" width="1.2" height="25.600000000000023" fill="#fff" opacity="0.067"/>
<rect x="399.4" y="278.2" width="2.0" height="25.600000000000023" fill="#fff" opacity="0.064"/>
<rect x="467.6" y="278.2" width="1.4" height="25.600000000000023" fill="#fff" opacity="0.073"/>
<rect x="387.2" y="278.2" width="0.6" height="25.600000000000023" fill="#fff" opacity="0.065"/>
<rect x="317.8" y="278.2" width="0.6" height="25.600000000000023" fill="#fff" opacity="0.094"/>
<rect x="315.6" y="278.2" width="1.4" height="25.600000000000023" fill="#fff" opacity="0.088"/>
<rect x="393.9" y="278.2" width="1.1" height="25.600000000000023" fill="#fff" opacity="0.071"/>
<rect x="393.7" y="278.2" width="1.9" height="25.600000000000023" fill="#fff" opacity="0.038"/>
<rect x="394.7" y="278.2" width="1.0" height="25.600000000000023" fill="#fff" opacity="0.052"/>
<rect x="437.9" y="278.2" width="1.4" height="25.600000000000023" fill="#fff" opacity="0.075"/>
<rect x="435.4" y="278.2" width="2.1" height="25.600000000000023" fill="#fff" opacity="0.065"/>
<rect x="405.4" y="278.2" width="1.4" height="25.600000000000023" fill="#fff" opacity="0.071"/>
<rect x="421.7" y="278.2" width="1.3" height="25.600000000000023" fill="#fff" opacity="0.073"/>
<rect x="377.9" y="278.2" width="2.1" height="25.600000000000023" fill="#fff" opacity="0.086"/>
<rect x="459.2" y="278.2" width="2.1" height="25.600000000000023" fill="#fff" opacity="0.051"/>
<rect x="394.5" y="278.2" width="2.1" height="25.600000000000023" fill="#fff" opacity="0.097"/>
<rect x="308.4" y="278.2" width="0.8" height="25.600000000000023" fill="#fff" opacity="0.065"/>
<rect x="295.2" y="278.2" width="1.0" height="25.600000000000023" fill="#fff" opacity="0.036"/>
<rect x="417.0" y="278.2" width="1.9" height="25.600000000000023" fill="#fff" opacity="0.102"/>
<rect x="311.9" y="278.2" width="1.7" height="25.600000000000023" fill="#fff" opacity="0.083"/>
<rect x="309.6" y="278.2" width="2.0" height="25.600000000000023" fill="#fff" opacity="0.107"/>
<rect x="325.2" y="278.2" width="2.1" height="25.600000000000023" fill="#fff" opacity="0.062"/>
<rect x="379.8" y="278.2" width="2.2" height="25.600000000000023" fill="#fff" opacity="0.097"/>
<rect x="313.3" y="278.2" width="1.3" height="25.600000000000023" fill="#fff" opacity="0.071"/>
<rect x="349.6" y="278.2" width="0.9" height="25.600000000000023" fill="#000" opacity="0.023"/>
<rect x="427.7" y="278.2" width="0.6" height="25.600000000000023" fill="#000" opacity="0.029"/>
<rect x="370.3" y="278.2" width="0.6" height="25.600000000000023" fill="#000" opacity="0.023"/>
<rect x="407.7" y="278.2" width="1.4" height="25.600000000000023" fill="#000" opacity="0.017"/>
<rect x="481.4" y="278.2" width="1.9" height="25.600000000000023" fill="#000" opacity="0.039"/>
<rect x="301.8" y="278.2" width="1.0" height="25.600000000000023" fill="#000" opacity="0.016"/>
<rect x="439.3" y="278.2" width="1.0" height="25.600000000000023" fill="#000" opacity="0.018"/>
<rect x="366.5" y="278.2" width="2.1" height="25.600000000000023" fill="#000" opacity="0.035"/>
<rect x="333.2" y="278.2" width="0.8" height="25.600000000000023" fill="#000" opacity="0.038"/>
<rect x="396.8" y="278.2" width="1.7" height="25.600000000000023" fill="#000" opacity="0.017"/>
<rect x="292.1" y="278.2" width="1.7" height="25.600000000000023" fill="#000" opacity="0.026"/>
<rect x="295.2" y="278.2" width="2.1" height="25.600000000000023" fill="#000" opacity="0.031"/>
<rect x="443.9" y="278.2" width="0.7" height="25.600000000000023" fill="#000" opacity="0.036"/>
<rect x="294.0" y="278.2" width="2.0" height="25.600000000000023" fill="#000" opacity="0.026"/>
<rect x="349.6" y="278.2" width="1.5" height="25.600000000000023" fill="#000" opacity="0.038"/>
<rect x="335.0" y="278.2" width="0.8" height="25.600000000000023" fill="#000" opacity="0.028"/>
<rect x="329.0" y="278.2" width="0.8" height="25.600000000000023" fill="#000" opacity="0.019"/>
<rect x="290.7" y="278.2" width="0.9" height="25.600000000000023" fill="#000" opacity="0.023"/>
<rect x="342.6" y="278.2" width="1.8" height="25.600000000000023" fill="#000" opacity="0.022"/>
<rect x="382.4" y="278.2" width="0.9" height="25.600000000000023" fill="#000" opacity="0.024"/>
<rect x="284.1" y="278.2" width="1.0" height="25.600000000000023" fill="#000" opacity="0.015"/>
<rect x="429.9" y="278.2" width="1.5" height="25.600000000000023" fill="#000" opacity="0.020"/>
<rect x="377.3" y="278.2" width="2.1" height="25.600000000000023" fill="#000" opacity="0.018"/>
<rect x="447.5" y="278.2" width="1.3" height="25.600000000000023" fill="#000" opacity="0.027"/>
<rect x="450.7" y="278.2" width="1.2" height="25.600000000000023" fill="#000" opacity="0.028"/>
<rect x="284.4" y="260.4" width="11.600000000000023" height="2.2" rx="1.1" fill="#111" opacity="0.1"/>
<rect x="318.7" y="260.1" width="14.600000000000023" height="2.8" rx="1.4" fill="#111" opacity="1"/>
<rect x="337.9" y="260.3" width="14.100000000000023" height="2.4" rx="1.2" fill="#111" opacity="0.85"/>
<rect x="357.7" y="260.3" width="13.900000000000034" height="2.4" rx="1.2" fill="#111" opacity="0.82"/>
<rect x="376.9" y="260.4" width="13.900000000000034" height="2.2" rx="1.1" fill="#111" opacity="0.7"/>
<rect x="396.6" y="260.45" width="12.699999999999989" height="2.1" rx="1.05" fill="#111" opacity="0.55"/>
<rect x="415" y="260.45" width="12.699999999999989" height="2.1" rx="1.05" fill="#111" opacity="0.55"/>
<rect x="433.5" y="260.45" width="12.699999999999989" height="2.1" rx="1.05" fill="#111" opacity="0.62"/>
<rect x="452" y="260.5" width="11.5" height="2.0" rx="1.0" fill="#111" opacity="0.42"/>
<rect x="469.3" y="260.5" width="12.699999999999989" height="2.0" rx="1.0" fill="#111" opacity="0.36"/>
<rect x="281.2" y="284.79999999999995" width="15.0" height="3.2" rx="1.6" fill="#111" opacity="1" filter="url(#bl)"/>
<rect x="282.0" y="285.5" width="13.4" height="1.8000000000000003" rx="0.9000000000000001" fill="#111" opacity="0.850"/>
<rect x="281.2" y="287" width="15" height="6.5" fill="#444" opacity="0.55" filter="url(#bl2)"/>
<rect x="300" y="284.75" width="12.5" height="2.5" rx="1.25" fill="#111" opacity="0.1" filter="url(#bl)"/>
<rect x="300.8" y="285.45" width="10.9" height="1.1" rx="0.55" fill="#111" opacity="0.085"/>
<rect x="378.1" y="285" width="15.399999999999977" height="13" rx="2" fill="url(#gB)" opacity="0.8" filter="url(#bl2)"/>
<rect x="377.6" y="283.85" width="16.399999999999977" height="1.9" rx="0.95" fill="#222" opacity="0.5"/>
<rect x="397.7" y="285" width="14.600000000000023" height="13" rx="2" fill="url(#gB)" opacity="0.8" filter="url(#bl2)"/>
<rect x="397.2" y="283.85" width="15.600000000000023" height="1.9" rx="0.95" fill="#222" opacity="0.5"/>
<rect x="416.7" y="285" width="14.600000000000023" height="13" rx="2" fill="url(#gB)" opacity="0.8" filter="url(#bl2)"/>
<rect x="416.2" y="283.85" width="15.600000000000023" height="1.9" rx="0.95" fill="#222" opacity="0.5"/>
<rect x="435.0" y="285" width="13.100000000000023" height="13" rx="2" fill="url(#gB)" opacity="0.8" filter="url(#bl2)"/>
<rect x="434.5" y="283.85" width="14.100000000000023" height="1.9" rx="0.95" fill="#222" opacity="0.5"/>
<rect x="453.5" y="285" width="7.800000000000011" height="13" rx="2" fill="url(#gB)" opacity="0.6400000000000001" filter="url(#bl2)"/>
<rect x="453" y="283.85" width="8.800000000000011" height="1.9" rx="0.95" fill="#222" opacity="0.4"/>
<line x1="48.9" y1="371.6" x2="48.9" y2="497.8" stroke="#1a1a1a" stroke-width="1.15"/>
<line x1="48.4" y1="497.3" x2="235.5" y2="497.3" stroke="#1a1a1a" stroke-width="1.15"/>
<line x1="45.1" y1="497.3" x2="48.9" y2="497.3" stroke="#1a1a1a" stroke-width="0.9"/>
<line x1="45.1" y1="472.675" x2="48.9" y2="472.675" stroke="#1a1a1a" stroke-width="0.9"/>
<line x1="45.1" y1="448.05" x2="48.9" y2="448.05" stroke="#1a1a1a" stroke-width="0.9"/>
<line x1="45.1" y1="423.425" x2="48.9" y2="423.425" stroke="#1a1a1a" stroke-width="0.9"/>
<line x1="45.1" y1="398.8" x2="48.9" y2="398.8" stroke="#1a1a1a" stroke-width="0.9"/>
<line x1="45.1" y1="374.175" x2="48.9" y2="374.175" stroke="#1a1a1a" stroke-width="0.9"/>
<text x="42.3" y="500.3" font-size="8.6" text-anchor="end" fill="#222" font-weight="normal" font-style="normal" textLength="10.2" lengthAdjust="spacingAndGlyphs" stroke="#222" stroke-width="0.22" >0.0</text>
<text x="42.3" y="451.05" font-size="8.6" text-anchor="end" fill="#222" font-weight="normal" font-style="normal" textLength="10.2" lengthAdjust="spacingAndGlyphs" stroke="#222" stroke-width="0.22" >0.5</text>
<text x="42.3" y="401.8" font-size="8.6" text-anchor="end" fill="#222" font-weight="normal" font-style="normal" textLength="10.2" lengthAdjust="spacingAndGlyphs" stroke="#222" stroke-width="0.22" >1.0</text>
<line x1="48.9" y1="497.3" x2="48.9" y2="500.1" stroke="#1a1a1a" stroke-width="0.9"/>
<text x="48.9" y="510.2" font-size="8.5" text-anchor="middle" fill="#222" font-weight="normal" font-style="normal" textLength="4.2" lengthAdjust="spacingAndGlyphs" stroke="#222" stroke-width="0.22" >0</text>
<line x1="79.65" y1="497.3" x2="79.65" y2="500.1" stroke="#1a1a1a" stroke-width="0.9"/>
<text x="79.65" y="510.2" font-size="8.5" text-anchor="middle" fill="#222" font-weight="normal" font-style="normal" textLength="8.4" lengthAdjust="spacingAndGlyphs" stroke="#222" stroke-width="0.22" >12</text>
<line x1="110.4" y1="497.3" x2="110.4" y2="500.1" stroke="#1a1a1a" stroke-width="0.9"/>
<text x="110.4" y="510.2" font-size="8.5" text-anchor="middle" fill="#222" font-weight="normal" font-style="normal" textLength="8.4" lengthAdjust="spacingAndGlyphs" stroke="#222" stroke-width="0.22" >24</text>
<line x1="141.15" y1="497.3" x2="141.15" y2="500.1" stroke="#1a1a1a" stroke-width="0.9"/>
<text x="141.15" y="510.2" font-size="8.5" text-anchor="middle" fill="#222" font-weight="normal" font-style="normal" textLength="8.4" lengthAdjust="spacingAndGlyphs" stroke="#222" stroke-width="0.22" >36</text>
<line x1="171.9" y1="497.3" x2="171.9" y2="500.1" stroke="#1a1a1a" stroke-width="0.9"/>
<text x="171.9" y="510.2" font-size="8.5" text-anchor="middle" fill="#222" font-weight="normal" font-style="normal" textLength="8.4" lengthAdjust="spacingAndGlyphs" stroke="#222" stroke-width="0.22" >48</text>
<line x1="202.65" y1="497.3" x2="202.65" y2="500.1" stroke="#1a1a1a" stroke-width="0.9"/>
<text x="202.65" y="510.2" font-size="8.5" text-anchor="middle" fill="#222" font-weight="normal" font-style="normal" textLength="8.4" lengthAdjust="spacingAndGlyphs" stroke="#222" stroke-width="0.22" >60</text>
<line x1="233.4" y1="497.3" x2="233.4" y2="500.1" stroke="#1a1a1a" stroke-width="0.9"/>
<text x="233.4" y="510.2" font-size="8.5" text-anchor="middle" fill="#222" font-weight="normal" font-style="normal" textLength="8.4" lengthAdjust="spacingAndGlyphs" stroke="#222" stroke-width="0.22" >72</text>
<text x="132.9" y="523.6" font-size="8.9" text-anchor="start" fill="#222" font-weight="normal" font-style="normal" textLength="19.2" lengthAdjust="spacingAndGlyphs" stroke="#222" stroke-width="0.22" >Hours</text>
<text transform="translate(27,434.6) rotate(-90)" font-size="8.6" text-anchor="middle" fill="#222" textLength="59.5" lengthAdjust="spacingAndGlyphs">Total FXIII-A (A.U.)</text>
<polyline points="48.90,398.80 49.16,402.43 49.41,405.80 49.67,408.94 49.92,411.85 50.18,414.56 50.44,417.07 50.69,419.42 50.95,421.59 51.21,423.62 51.46,425.50 51.72,427.26 51.98,428.89 52.23,430.41 52.49,431.82 52.74,433.14 53.00,434.37 53.26,435.52 53.51,436.58 53.77,437.58 54.02,438.51 54.28,439.38 54.54,440.19 54.79,440.94 55.05,441.65 55.31,442.31 55.56,442.93 55.82,443.51 56.08,444.05 56.33,444.56 56.59,445.04 56.84,445.49 57.10,445.91 57.36,446.31 57.61,446.68 57.87,447.03 58.12,447.36 58.38,447.67 58.64,447.97 58.89,448.24 59.15,448.51 59.41,448.76 59.66,448.99 59.92,449.22 60.17,449.43 60.43,449.64 60.69,449.83 60.94,450.01 61.20,450.19 61.46,450.36 61.71,450.52 61.97,450.68 62.23,450.83 62.48,450.97 62.74,451.11 62.99,451.24 63.25,451.37 63.51,451.49 63.76,451.61 64.02,451.73 64.28,451.84 64.53,451.95 64.79,452.06 65.04,452.16 65.30,452.26 65.56,452.36 65.81,452.46 66.07,452.56 66.33,452.65 66.58,452.74 66.84,452.83 67.09,452.92 67.35,453.00 67.61,453.09 67.86,453.17 68.12,453.26 68.38,453.34 68.63,453.42 68.89,453.50 69.14,453.58 69.40,453.65 69.66,453.73 69.91,453.81 70.17,453.88 70.42,453.96 70.68,454.03 70.94,454.11 71.19,454.18 71.45,454.25 71.71,454.32 71.96,454.40 72.22,454.47 72.47,454.54 72.73,454.61 72.99,454.68 73.24,454.75 73.50,454.82 73.76,454.89 74.01,454.96 74.27,455.03 74.53,455.09 74.78,455.16 75.04,455.23 75.29,455.30 75.55,455.37 75.81,455.43 76.06,455.50 76.32,455.57 76.58,455.63 76.83,455.70 77.09,455.77 77.34,455.83 77.60,455.90 77.86,455.96 78.11,456.03 78.37,456.09 78.62,456.16 78.88,456.22 79.14,456.29 79.39,456.35 79.65,456.42 79.91,456.48 80.16,456.55 80.42,456.61 80.67,456.68 80.93,456.74 81.19,456.80 81.44,456.87 81.70,456.93 81.96,457.00 82.21,457.06 82.47,457.12 82.72,457.19 82.98,457.25 83.24,457.31 83.49,457.37 83.75,457.44 84.01,457.50 84.26,457.56 84.52,457.63 84.78,457.69 85.03,457.75 85.29,457.81 85.54,457.87 85.80,457.94 86.06,458.00 86.31,458.06 86.57,458.12 86.83,458.18 87.08,458.24 87.34,458.31 87.59,458.37 87.85,458.43 88.11,458.49 88.36,458.55 88.62,458.61 88.88,458.67 89.13,458.73 89.39,458.79 89.64,458.85 89.90,458.91 90.16,458.97 90.41,459.03 90.67,459.09 90.93,459.15 91.18,459.21 91.44,459.27 91.69,459.33 91.95,459.39 92.21,459.45 92.46,459.51 92.72,459.57 92.97,459.63 93.23,459.69 93.49,459.75 93.74,459.81 94.00,459.87 94.26,459.92 94.51,459.98 94.77,460.04 95.03,460.10 95.28,460.16 95.54,460.22 95.79,460.27 96.05,460.33 96.31,460.39 96.56,460.45 96.82,460.51 97.08,460.56 97.33,460.62 97.59,460.68 97.84,460.74 98.10,460.79 98.36,460.85 98.61,460.91 98.87,460.97 99.12,461.02 99.38,461.08 99.64,461.14 99.89,461.19 100.15,461.25 100.41,461.31 100.66,461.36 100.92,461.42 101.18,461.48 101.43,461.53 101.69,461.59 101.94,461.64 102.20,461.70 102.46,461.76 102.71,461.81 102.97,461.87 103.23,461.92 103.48,461.98 103.74,462.03 103.99,462.09 104.25,462.14 104.51,462.20 104.76,462.25 105.02,462.31 105.28,462.36 105.53,462.42 105.79,462.47 106.04,462.53 106.30,462.58 106.56,462.64 106.81,462.69 107.07,462.75 107.33,462.80 107.58,462.85 107.84,462.91 108.09,462.96 108.35,463.02 108.61,463.07 108.86,463.12 109.12,463.18 109.38,463.23 109.63,463.28 109.89,463.34 110.14,463.39 110.40,463.44 110.66,463.50 110.91,463.55 111.17,463.60 111.43,463.66 111.68,463.71 111.94,463.76 112.19,463.81 112.45,463.87 112.71,463.92 112.96,463.97 113.22,464.02 113.47,464.08 113.73,464.13 113.99,464.18 114.24,464.23 114.50,464.28 114.76,464.34 115.01,464.39 115.27,464.44 115.53,464.49 115.78,464.54 116.04,464.59 116.29,464.65 116.55,464.70 116.81,464.75 117.06,464.80 117.32,464.85 117.57,464.90 117.83,464.95 118.09,465.00 118.34,465.05 118.60,465.10 118.86,465.15 119.11,465.20 119.37,465.25 119.62,465.30 119.88,465.35 120.14,465.41 120.39,465.46 120.65,465.51 120.91,465.55 121.16,465.60 121.42,465.65 121.68,465.70 121.93,465.75 122.19,465.80 122.44,465.85 122.70,465.90 122.96,465.95 123.21,466.00 123.47,466.05 123.72,466.10 123.98,466.15 124.24,466.20 124.49,466.25 124.75,466.29 125.01,466.34 125.26,466.39 125.52,466.44 125.78,466.49 126.03,466.54 126.29,466.58 126.54,466.63 126.80,466.68 127.06,466.73 127.31,466.78 127.57,466.82 127.82,466.87 128.08,466.92 128.34,466.97 128.59,467.02 128.85,467.06 129.11,467.11 129.36,467.16 129.62,467.21 129.88,467.25 130.13,467.30 130.39,467.35 130.64,467.39 130.90,467.44 131.16,467.49 131.41,467.53 131.67,467.58 131.92,467.63 132.18,467.67 132.44,467.72 132.69,467.77 132.95,467.81 133.21,467.86 133.46,467.91 133.72,467.95 133.97,468.00 134.23,468.04 134.49,468.09 134.74,468.14 135.00,468.18 135.26,468.23 135.51,468.27 135.77,468.32 136.03,468.36 136.28,468.41 136.54,468.45 136.79,468.50 137.05,468.54 137.31,468.59 137.56,468.63 137.82,468.68 138.08,468.72 138.33,468.77 138.59,468.81 138.84,468.86 139.10,468.90 139.36,468.95 139.61,468.99 139.87,469.04 140.12,469.08 140.38,469.13 140.64,469.17 140.89,469.21 141.15,469.26 141.41,469.30 141.66,469.35 141.92,469.39 142.17,469.43 142.43,469.48 142.69,469.52 142.94,469.56 143.20,469.61 143.46,469.65 143.71,469.69 143.97,469.74 144.22,469.78 144.48,469.82 144.74,469.87 144.99,469.91 145.25,469.95 145.51,470.00 145.76,470.04 146.02,470.08 146.28,470.12 146.53,470.17 146.79,470.21 147.04,470.25 147.30,470.29 147.56,470.34 147.81,470.38 148.07,470.42 148.33,470.46 148.58,470.51 148.84,470.55 149.09,470.59 149.35,470.63 149.61,470.67 149.86,470.72 150.12,470.76 150.38,470.80 150.63,470.84 150.89,470.88 151.14,470.92 151.40,470.96 151.66,471.01 151.91,471.05 152.17,471.09 152.43,471.13 152.68,471.17 152.94,471.21 153.19,471.25 153.45,471.29 153.71,471.33 153.96,471.38 154.22,471.42 154.47,471.46 154.73,471.50 154.99,471.54 155.24,471.58 155.50,471.62 155.76,471.66 156.01,471.70 156.27,471.74 156.53,471.78 156.78,471.82 157.04,471.86 157.29,471.90 157.55,471.94 157.81,471.98 158.06,472.02 158.32,472.06 158.58,472.10 158.83,472.14 159.09,472.18 159.34,472.22 159.60,472.26 159.86,472.29 160.11,472.33 160.37,472.37 160.62,472.41 160.88,472.45 161.14,472.49 161.39,472.53 161.65,472.57 161.91,472.61 162.16,472.65 162.42,472.68 162.68,472.72 162.93,472.76 163.19,472.80 163.44,472.84 163.70,472.88 163.96,472.91 164.21,472.95 164.47,472.99 164.72,473.03 164.98,473.07 165.24,473.11 165.49,473.14 165.75,473.18 166.01,473.22 166.26,473.26 166.52,473.29 166.78,473.33 167.03,473.37 167.29,473.41 167.54,473.44 167.80,473.48 168.06,473.52 168.31,473.56 168.57,473.59 168.83,473.63 169.08,473.67 169.34,473.71 169.59,473.74 169.85,473.78 170.11,473.82 170.36,473.85 170.62,473.89 170.88,473.93 171.13,473.96 171.39,474.00 171.64,474.04 171.90,474.07 172.16,474.11 172.41,474.15 172.67,474.18 172.93,474.22 173.18,474.25 173.44,474.29 173.69,474.33 173.95,474.36 174.21,474.40 174.46,474.43 174.72,474.47 174.97,474.51 175.23,474.54 175.49,474.58 175.74,474.61 176.00,474.65 176.26,474.68 176.51,474.72 176.77,474.76 177.03,474.79 177.28,474.83 177.54,474.86 177.79,474.90 178.05,474.93 178.31,474.97 178.56,475.00 178.82,475.04 179.08,475.07 179.33,475.11 179.59,475.14 179.84,475.18 180.10,475.21 180.36,475.25 180.61,475.28 180.87,475.32 181.12,475.35 181.38,475.38 181.64,475.42 181.89,475.45 182.15,475.49 182.41,475.52 182.66,475.56 182.92,475.59 183.18,475.62 183.43,475.66 183.69,475.69 183.94,475.73 184.20,475.76 184.46,475.79 184.71,475.83 184.97,475.86 185.23,475.89 185.48,475.93 185.74,475.96 185.99,475.99 186.25,476.03 186.51,476.06 186.76,476.09 187.02,476.13 187.28,476.16 187.53,476.19 187.79,476.23 188.04,476.26 188.30,476.29 188.56,476.33 188.81,476.36 189.07,476.39 189.33,476.43 189.58,476.46 189.84,476.49 190.09,476.52 190.35,476.56 190.61,476.59 190.86,476.62 191.12,476.65 191.38,476.69 191.63,476.72 191.89,476.75 192.14,476.78 192.40,476.81 192.66,476.85 192.91,476.88 193.17,476.91 193.43,476.94 193.68,476.97 193.94,477.01 194.19,477.04 194.45,477.07 194.71,477.10 194.96,477.13 195.22,477.17 195.48,477.20 195.73,477.23 195.99,477.26 196.24,477.29 196.50,477.32 196.76,477.35 197.01,477.39 197.27,477.42 197.53,477.45 197.78,477.48 198.04,477.51 198.29,477.54 198.55,477.57 198.81,477.60 199.06,477.63 199.32,477.66 199.58,477.70 199.83,477.73 200.09,477.76 200.34,477.79 200.60,477.82 200.86,477.85 201.11,477.88 201.37,477.91 201.62,477.94 201.88,477.97 202.14,478.00 202.39,478.03 202.65,478.06 202.91,478.09 203.16,478.12 203.42,478.15 203.68,478.18 203.93,478.21 204.19,478.24 204.44,478.27 204.70,478.30 204.96,478.33 205.21,478.36 205.47,478.39 205.73,478.42 205.98,478.45 206.24,478.48 206.49,478.51 206.75,478.54 207.01,478.57 207.26,478.60 207.52,478.63 207.78,478.66 208.03,478.69 208.29,478.71 208.54,478.74 208.80,478.77 209.06,478.80 209.31,478.83 209.57,478.86 209.83,478.89 210.08,478.92 210.34,478.95 210.59,478.98 210.85,479.00 211.11,479.03 211.36,479.06 211.62,479.09 211.88,479.12 212.13,479.15 212.39,479.18 212.64,479.20 212.90,479.23 213.16,479.26 213.41,479.29 213.67,479.32 213.93,479.35 214.18,479.37 214.44,479.40 214.69,479.43 214.95,479.46 215.21,479.49 215.46,479.51 215.72,479.54 215.98,479.57 216.23,479.60 216.49,479.63 216.74,479.65 217.00,479.68 217.26,479.71 217.51,479.74 217.77,479.76 218.03,479.79 218.28,479.82 218.54,479.85 218.79,479.87 219.05,479.90 219.31,479.93 219.56,479.96 219.82,479.98 220.07,480.01 220.33,480.04 220.59,480.06 220.84,480.09 221.10,480.12 221.36,480.14 221.61,480.17 221.87,480.20 222.13,480.23 222.38,480.25 222.64,480.28 222.89,480.31 223.15,480.33 223.41,480.36 223.66,480.39 223.92,480.41 224.18,480.44 224.43,480.47 224.69,480.49 224.94,480.52 225.20,480.54 225.46,480.57 225.71,480.60 225.97,480.62 226.23,480.65 226.48,480.68 226.74,480.70 226.99,480.73 227.25,480.75 227.51,480.78 227.76,480.81 228.02,480.83 228.28,480.86 228.53,480.88 228.79,480.91 229.04,480.93 229.30,480.96 229.56,480.99 229.81,481.01 230.07,481.04 230.32,481.06 230.58,481.09 230.84,481.11 231.09,481.14 231.35,481.16 231.61,481.19 231.86,481.21 232.12,481.24 232.38,481.26 232.63,481.29 232.89,481.32 233.14,481.34 233.40,481.37" fill="none" stroke="#36a033" stroke-width="1.3"/>
<line x1="48.9" y1="391.905" x2="48.9" y2="405.69500000000005" stroke="#36a033" stroke-width="0.8"/>
<line x1="46.9" y1="391.905" x2="50.9" y2="391.905" stroke="#36a033" stroke-width="0.8"/>
<line x1="46.9" y1="405.69500000000005" x2="50.9" y2="405.69500000000005" stroke="#36a033" stroke-width="0.8"/>
<circle cx="48.9" cy="398.8" r="2.3" fill="#36a033"/>
<line x1="56.5875" y1="441.15500000000003" x2="56.5875" y2="449.035" stroke="#36a033" stroke-width="0.8"/>
<line x1="54.5875" y1="441.15500000000003" x2="58.5875" y2="441.15500000000003" stroke="#36a033" stroke-width="0.8"/>
<line x1="54.5875" y1="449.035" x2="58.5875" y2="449.035" stroke="#36a033" stroke-width="0.8"/>
<circle cx="56.5875" cy="445.095" r="2.3" fill="#36a033"/>
<line x1="64.275" y1="442.534" x2="64.275" y2="452.384" stroke="#36a033" stroke-width="0.8"/>
<line x1="62.275000000000006" y1="442.534" x2="66.275" y2="442.534" stroke="#36a033" stroke-width="0.8"/>
<line x1="62.275000000000006" y1="452.384" x2="66.275" y2="452.384" stroke="#36a033" stroke-width="0.8"/>
<circle cx="64.275" cy="447.459" r="2.3" fill="#36a033"/>
<line x1="71.9625" y1="455.142" x2="71.9625" y2="459.082" stroke="#36a033" stroke-width="0.8"/>
<line x1="69.9625" y1="455.142" x2="73.9625" y2="455.142" stroke="#36a033" stroke-width="0.8"/>
<line x1="69.9625" y1="459.082" x2="73.9625" y2="459.082" stroke="#36a033" stroke-width="0.8"/>
<rect x="69.7625" y="454.91200000000003" width="4.4" height="4.4" fill="#36a033"/>
<line x1="79.65" y1="453.46750000000003" x2="79.65" y2="460.3625" stroke="#36a033" stroke-width="0.8"/>
<line x1="77.65" y1="453.46750000000003" x2="81.65" y2="453.46750000000003" stroke="#36a033" stroke-width="0.8"/>
<line x1="77.65" y1="460.3625" x2="81.65" y2="460.3625" stroke="#36a033" stroke-width="0.8"/>
<circle cx="79.65" cy="456.915" r="2.3" fill="#36a033"/>
<circle cx="87.3375" cy="459.9685" r="2.3" fill="#36a033"/>
<circle cx="95.025" cy="463.81" r="2.3" fill="#36a033"/>
<circle cx="110.4" cy="457.9" r="2.3" fill="#36a033"/>
<line x1="125.775" y1="464.8935" x2="125.775" y2="471.7885" stroke="#36a033" stroke-width="0.8"/>
<line x1="123.775" y1="464.8935" x2="127.775" y2="464.8935" stroke="#36a033" stroke-width="0.8"/>
<line x1="123.775" y1="471.7885" x2="127.775" y2="471.7885" stroke="#36a033" stroke-width="0.8"/>
<circle cx="125.775" cy="468.341" r="2.3" fill="#36a033"/>
<circle cx="141.15" cy="467.0605" r="2.3" fill="#36a033"/>
<circle cx="202.65" cy="480.4565" r="2.3" fill="#36a033"/>
<circle cx="233.4" cy="480.4565" r="2.3" fill="#36a033"/>
<line x1="297.4" y1="371.4" x2="297.4" y2="497.8" stroke="#1a1a1a" stroke-width="1.15"/>
<line x1="296.9" y1="497.3" x2="484.8" y2="497.3" stroke="#1a1a1a" stroke-width="1.15"/>
<line x1="294.2" y1="497.3" x2="297.4" y2="497.3" stroke="#1a1a1a" stroke-width="0.9"/>
<line x1="294.2" y1="483.55" x2="297.4" y2="483.55" stroke="#1a1a1a" stroke-width="0.9"/>
<line x1="294.2" y1="469.8" x2="297.4" y2="469.8" stroke="#1a1a1a" stroke-width="0.9"/>
<line x1="294.2" y1="456.05" x2="297.4" y2="456.05" stroke="#1a1a1a" stroke-width="0.9"/>
<line x1="294.2" y1="442.3" x2="297.4" y2="442.3" stroke="#1a1a1a" stroke-width="0.9"/>
<line x1="294.2" y1="428.55" x2="297.4" y2="428.55" stroke="#1a1a1a" stroke-width="0.9"/>
<line x1="294.2" y1="414.8" x2="297.4" y2="414.8" stroke="#1a1a1a" stroke-width="0.9"/>
<line x1="294.2" y1="401.05" x2="297.4" y2="401.05" stroke="#1a1a1a" stroke-width="0.9"/>
<line x1="294.2" y1="387.3" x2="297.4" y2="387.3" stroke="#1a1a1a" stroke-width="0.9"/>
<line x1="294.2" y1="373.55" x2="297.4" y2="373.55" stroke="#1a1a1a" stroke-width="0.9"/>
<text x="290.6" y="499.90000000000003" font-size="8.5" text-anchor="end" fill="#222" font-weight="normal" font-style="normal" textLength="3.7" lengthAdjust="spacingAndGlyphs" stroke="#222" stroke-width="0.22" >0</text>
<text x="290.6" y="472.40000000000003" font-size="8.5" text-anchor="end" fill="#222" font-weight="normal" font-style="normal" textLength="3.7" lengthAdjust="spacingAndGlyphs" stroke="#222" stroke-width="0.22" >2</text>
<text x="290.6" y="444.90000000000003" font-size="8.5" text-anchor="end" fill="#222" font-weight="normal" font-style="normal" textLength="3.7" lengthAdjust="spacingAndGlyphs" stroke="#222" stroke-width="0.22" >4</text>
<text x="290.6" y="417.40000000000003" font-size="8.5" text-anchor="end" fill="#222" font-weight="normal" font-style="normal" textLength="3.7" lengthAdjust="spacingAndGlyphs" stroke="#222" stroke-width="0.22" >6</text>
<text x="290.6" y="389.90000000000003" font-size="8.5" text-anchor="end" fill="#222" font-weight="normal" font-style="normal" textLength="3.7" lengthAdjust="spacingAndGlyphs" stroke="#222" stroke-width="0.22" >8</text>
<line x1="297.4" y1="497.3" x2="297.4" y2="500.1" stroke="#1a1a1a" stroke-width="0.9"/>
<text x="297.4" y="510.2" font-size="8.5" text-anchor="middle" fill="#222" font-weight="normal" font-style="normal" textLength="4.2" lengthAdjust="spacingAndGlyphs" stroke="#222" stroke-width="0.22" >0</text>
<line x1="328.19199999999995" y1="497.3" x2="328.19199999999995" y2="500.1" stroke="#1a1a1a" stroke-width="0.9"/>
<text x="328.19199999999995" y="510.2" font-size="8.5" text-anchor="middle" fill="#222" font-weight="normal" font-style="normal" textLength="8.4" lengthAdjust="spacingAndGlyphs" stroke="#222" stroke-width="0.22" >12</text>
<line x1="358.984" y1="497.3" x2="358.984" y2="500.1" stroke="#1a1a1a" stroke-width="0.9"/>
<text x="358.984" y="510.2" font-size="8.5" text-anchor="middle" fill="#222" font-weight="normal" font-style="normal" textLength="8.4" lengthAdjust="spacingAndGlyphs" stroke="#222" stroke-width="0.22" >24</text>
<line x1="389.77599999999995" y1="497.3" x2="389.77599999999995" y2="500.1" stroke="#1a1a1a" stroke-width="0.9"/>
<text x="389.77599999999995" y="510.2" font-size="8.5" text-anchor="middle" fill="#222" font-weight="normal" font-style="normal" textLength="8.4" lengthAdjust="spacingAndGlyphs" stroke="#222" stroke-width="0.22" >36</text>
<line x1="420.568" y1="497.3" x2="420.568" y2="500.1" stroke="#1a1a1a" stroke-width="0.9"/>
<text x="420.568" y="510.2" font-size="8.5" text-anchor="middle" fill="#222" font-weight="normal" font-style="normal" textLength="8.4" lengthAdjust="spacingAndGlyphs" stroke="#222" stroke-width="0.22" >48</text>
<line x1="451.35999999999996" y1="497.3" x2="451.35999999999996" y2="500.1" stroke="#1a1a1a" stroke-width="0.9"/>
<text x="451.35999999999996" y="510.2" font-size="8.5" text-anchor="middle" fill="#222" font-weight="normal" font-style="normal" textLength="8.4" lengthAdjust="spacingAndGlyphs" stroke="#222" stroke-width="0.22" >60</text>
<line x1="482.15199999999993" y1="497.3" x2="482.15199999999993" y2="500.1" stroke="#1a1a1a" stroke-width="0.9"/>
<text x="482.15199999999993" y="510.2" font-size="8.5" text-anchor="middle" fill="#222" font-weight="normal" font-style="normal" textLength="8.4" lengthAdjust="spacingAndGlyphs" stroke="#222" stroke-width="0.22" >72</text>
<text x="381.9" y="523.6" font-size="8.9" text-anchor="start" fill="#222" font-weight="normal" font-style="normal" textLength="19.2" lengthAdjust="spacingAndGlyphs" stroke="#222" stroke-width="0.22" >Hours</text>
<text transform="translate(281.8,434.4) rotate(-90)" font-size="8.8" text-anchor="middle" fill="#222" textLength="60.8" lengthAdjust="spacingAndGlyphs">Total FXIII-B (A.U.)</text>
<polyline points="297.40,481.63 298.02,480.60 298.64,479.58 299.26,478.57 299.87,477.57 300.49,476.57 301.11,475.58 301.73,474.59 302.35,473.61 302.97,472.65 303.58,471.68 304.20,470.73 304.82,469.78 305.44,468.84 306.06,467.90 306.68,466.98 307.29,466.06 307.91,465.14 308.53,464.24 309.15,463.34 309.77,462.45 310.39,461.56 311.00,460.68 311.62,459.81 312.24,458.95 312.86,458.09 313.48,457.25 314.10,456.40 314.72,455.57 315.33,454.74 315.95,453.92 316.57,453.11 317.19,452.30 317.81,451.50 318.43,450.71 319.04,449.92 319.66,449.14 320.28,448.37 320.90,447.61 321.52,446.85 322.14,446.10 322.75,445.36 323.37,444.62 323.99,443.90 324.61,443.17 325.23,442.46 325.85,441.75 326.46,441.05 327.08,440.36 327.70,439.67 328.32,438.99 328.94,438.32 329.56,437.65 330.17,436.99 330.79,436.34 331.41,435.70 332.03,435.06 332.65,434.43 333.27,433.80 333.89,433.19 334.50,432.58 335.12,431.97 335.74,431.38 336.36,430.79 336.98,430.20 337.60,429.63 338.21,429.06 338.83,428.50 339.45,427.94 340.07,427.39 340.69,426.85 341.31,426.32 341.92,425.79 342.54,425.27 343.16,424.75 343.78,424.25 344.40,423.75 345.02,423.25 345.63,422.76 346.25,422.28 346.87,421.81 347.49,421.34 348.11,420.88 348.73,420.43 349.35,419.98 349.96,419.54 350.58,419.11 351.20,418.68 351.82,418.26 352.44,417.84 353.06,417.44 353.67,417.03 354.29,416.64 354.91,416.25 355.53,415.87 356.15,415.49 356.77,415.13 357.38,414.76 358.00,414.41 358.62,414.06 359.24,413.71 359.86,413.38 360.48,413.05 361.09,412.72 361.71,412.41 362.33,412.10 362.95,411.79 363.57,411.49 364.19,411.20 364.81,410.91 365.42,410.63 366.04,410.36 366.66,410.09 367.28,409.83 367.90,409.57 368.52,409.33 369.13,409.08 369.75,408.84 370.37,408.61 370.99,408.39 371.61,408.17 372.23,407.96 372.84,407.75 373.46,407.55 374.08,407.35 374.70,407.17 375.32,406.98 375.94,406.80 376.55,406.63 377.17,406.47 377.79,406.31 378.41,406.15 379.03,406.00 379.65,405.86 380.26,405.73 380.88,405.59 381.50,405.47 382.12,405.35 382.74,405.23 383.36,405.13 383.98,405.02 384.59,404.92 385.21,404.83 385.83,404.75 386.45,404.66 387.07,404.59 387.69,404.52 388.30,404.45 388.92,404.39 389.54,404.34 390.16,404.29 390.78,404.25 391.40,404.21 392.01,404.17 392.63,404.15 393.25,404.12 393.87,404.11 394.49,404.09 395.11,404.08 395.72,404.08 396.34,404.08 396.96,404.09 397.58,404.10 398.20,404.12 398.82,404.14 399.44,404.17 400.05,404.20 400.67,404.24 401.29,404.28 401.91,404.33 402.53,404.38 403.15,404.43 403.76,404.49 404.38,404.56 405.00,404.63 405.62,404.70 406.24,404.78 406.86,404.86 407.47,404.95 408.09,405.04 408.71,405.14 409.33,405.24 409.95,405.34 410.57,405.45 411.18,405.57 411.80,405.68 412.42,405.81 413.04,405.93 413.66,406.06 414.28,406.20 414.89,406.34 415.51,406.48 416.13,406.62 416.75,406.77 417.37,406.93 417.99,407.09 418.61,407.25 419.22,407.41 419.84,407.58 420.46,407.76 421.08,407.93 421.70,408.11 422.32,408.30 422.93,408.49 423.55,408.68 424.17,408.87 424.79,409.07 425.41,409.27 426.03,409.48 426.64,409.68 427.26,409.90 427.88,410.11 428.50,410.33 429.12,410.55 429.74,410.77 430.35,411.00 430.97,411.23 431.59,411.47 432.21,411.70 432.83,411.94 433.45,412.18 434.07,412.43 434.68,412.68 435.30,412.93 435.92,413.18 436.54,413.44 437.16,413.70 437.78,413.96 438.39,414.22 439.01,414.49 439.63,414.76 440.25,415.03 440.87,415.30 441.49,415.58 442.10,415.86 442.72,416.14 443.34,416.42 443.96,416.71 444.58,417.00 445.20,417.29 445.81,417.58 446.43,417.87 447.05,418.17 447.67,418.46 448.29,418.76 448.91,419.06 449.53,419.37 450.14,419.67 450.76,419.98 451.38,420.28 452.00,420.59 452.62,420.90 453.24,421.22 453.85,421.53 454.47,421.85 455.09,422.16 455.71,422.48 456.33,422.80 456.95,423.12 457.56,423.44 458.18,423.76 458.80,424.09 459.42,424.41 460.04,424.73 460.66,425.06 461.27,425.39 461.89,425.72 462.51,426.04 463.13,426.37 463.75,426.70 464.37,427.03 464.98,427.36 465.60,427.70 466.22,428.03 466.84,428.36 467.46,428.69 468.08,429.02 468.70,429.36 469.31,429.69 469.93,430.02 470.55,430.36 471.17,430.69 471.79,431.02 472.41,431.36 473.02,431.69 473.64,432.02 474.26,432.36 474.88,432.69 475.50,433.02 476.12,433.35 476.73,433.68 477.35,434.01 477.97,434.34 478.59,434.67 479.21,435.00 479.83,435.33 480.44,435.65 481.06,435.98 481.68,436.30 482.30,436.63" fill="none" stroke="#7471b4" stroke-width="1.5"/>
<line x1="297.4" y1="481.21250000000003" x2="297.4" y2="485.33750000000003" stroke="#8c8ac4" stroke-width="0.8"/>
<line x1="295.2" y1="481.21250000000003" x2="299.59999999999997" y2="481.21250000000003" stroke="#8c8ac4" stroke-width="0.8"/>
<line x1="295.2" y1="485.33750000000003" x2="299.59999999999997" y2="485.33750000000003" stroke="#8c8ac4" stroke-width="0.8"/>
<rect x="295.09999999999997" y="480.975" width="4.6" height="4.6" fill="#8784c0"/>
<line x1="305.09799999999996" y1="470.90000000000003" x2="305.09799999999996" y2="481.35" stroke="#8c8ac4" stroke-width="0.8"/>
<line x1="302.89799999999997" y1="470.90000000000003" x2="307.29799999999994" y2="470.90000000000003" stroke="#8c8ac4" stroke-width="0.8"/>
<line x1="302.89799999999997" y1="481.35" x2="307.29799999999994" y2="481.35" stroke="#8c8ac4" stroke-width="0.8"/>
<rect x="302.79799999999994" y="473.825" width="4.6" height="4.6" fill="#8784c0"/>
<line x1="312.796" y1="444.775" x2="312.796" y2="464.02500000000003" stroke="#8c8ac4" stroke-width="0.8"/>
<line x1="310.596" y1="444.775" x2="314.996" y2="444.775" stroke="#8c8ac4" stroke-width="0.8"/>
<line x1="310.596" y1="464.02500000000003" x2="314.996" y2="464.02500000000003" stroke="#8c8ac4" stroke-width="0.8"/>
<rect x="310.496" y="452.1" width="4.6" height="4.6" fill="#8784c0"/>
<line x1="320.49399999999997" y1="439.6875" x2="320.49399999999997" y2="451.2375" stroke="#8c8ac4" stroke-width="0.8"/>
<line x1="318.294" y1="439.6875" x2="322.69399999999996" y2="439.6875" stroke="#8c8ac4" stroke-width="0.8"/>
<line x1="318.294" y1="451.2375" x2="322.69399999999996" y2="451.2375" stroke="#8c8ac4" stroke-width="0.8"/>
<rect x="318.19399999999996" y="443.1625" width="4.6" height="4.6" fill="#8784c0"/>
<line x1="328.19199999999995" y1="415.7625" x2="328.19199999999995" y2="441.8875" stroke="#8c8ac4" stroke-width="0.8"/>
<line x1="325.99199999999996" y1="415.7625" x2="330.39199999999994" y2="415.7625" stroke="#8c8ac4" stroke-width="0.8"/>
<line x1="325.99199999999996" y1="441.8875" x2="330.39199999999994" y2="441.8875" stroke="#8c8ac4" stroke-width="0.8"/>
<rect x="325.89199999999994" y="426.525" width="4.6" height="4.6" fill="#8784c0"/>
<line x1="335.89" y1="423.7375" x2="335.89" y2="431.9875" stroke="#8c8ac4" stroke-width="0.8"/>
<line x1="333.69" y1="423.7375" x2="338.09" y2="423.7375" stroke="#8c8ac4" stroke-width="0.8"/>
<line x1="333.69" y1="431.9875" x2="338.09" y2="431.9875" stroke="#8c8ac4" stroke-width="0.8"/>
<rect x="333.59" y="425.5625" width="4.6" height="4.6" fill="#8784c0"/>
<rect x="341.28799999999995" y="434.225" width="4.6" height="4.6" fill="#8784c0"/>
<line x1="358.984" y1="398.4375" x2="358.984" y2="431.4375" stroke="#8c8ac4" stroke-width="0.8"/>
<line x1="356.784" y1="398.4375" x2="361.18399999999997" y2="398.4375" stroke="#8c8ac4" stroke-width="0.8"/>
<line x1="356.784" y1="431.4375" x2="361.18399999999997" y2="431.4375" stroke="#8c8ac4" stroke-width="0.8"/>
<rect x="356.68399999999997" y="412.6375" width="4.6" height="4.6" fill="#8784c0"/>
<line x1="374.38" y1="375.33750000000003" x2="374.38" y2="405.5875" stroke="#8c8ac4" stroke-width="0.8"/>
<line x1="372.18" y1="375.33750000000003" x2="376.58" y2="375.33750000000003" stroke="#8c8ac4" stroke-width="0.8"/>
<line x1="372.18" y1="405.5875" x2="376.58" y2="405.5875" stroke="#8c8ac4" stroke-width="0.8"/>
<rect x="372.08" y="388.1625" width="4.6" height="4.6" fill="#8784c0"/>
<line x1="389.77599999999995" y1="408.475" x2="389.77599999999995" y2="424.15000000000003" stroke="#8c8ac4" stroke-width="0.8"/>
<line x1="387.57599999999996" y1="408.475" x2="391.97599999999994" y2="408.475" stroke="#8c8ac4" stroke-width="0.8"/>
<line x1="387.57599999999996" y1="424.15000000000003" x2="391.97599999999994" y2="424.15000000000003" stroke="#8c8ac4" stroke-width="0.8"/>
<rect x="387.47599999999994" y="414.0125" width="4.6" height="4.6" fill="#8784c0"/>
<line x1="451.35999999999996" y1="405.175" x2="451.35999999999996" y2="424.425" stroke="#8c8ac4" stroke-width="0.8"/>
<line x1="449.15999999999997" y1="405.175" x2="453.55999999999995" y2="405.175" stroke="#8c8ac4" stroke-width="0.8"/>
<line x1="449.15999999999997" y1="424.425" x2="453.55999999999995" y2="424.425" stroke="#8c8ac4" stroke-width="0.8"/>
<rect x="449.05999999999995" y="412.5" width="4.6" height="4.6" fill="#8784c0"/>
<line x1="482.15199999999993" y1="431.1625" x2="482.15199999999993" y2="449.3125" stroke="#8c8ac4" stroke-width="0.8"/>
<line x1="479.95199999999994" y1="431.1625" x2="484.3519999999999" y2="431.1625" stroke="#8c8ac4" stroke-width="0.8"/>
<line x1="479.95199999999994" y1="449.3125" x2="484.3519999999999" y2="449.3125" stroke="#8c8ac4" stroke-width="0.8"/>
<rect x="479.8519999999999" y="437.9375" width="4.6" height="4.6" fill="#8784c0"/>
</g>
</svg>
</body></html>
